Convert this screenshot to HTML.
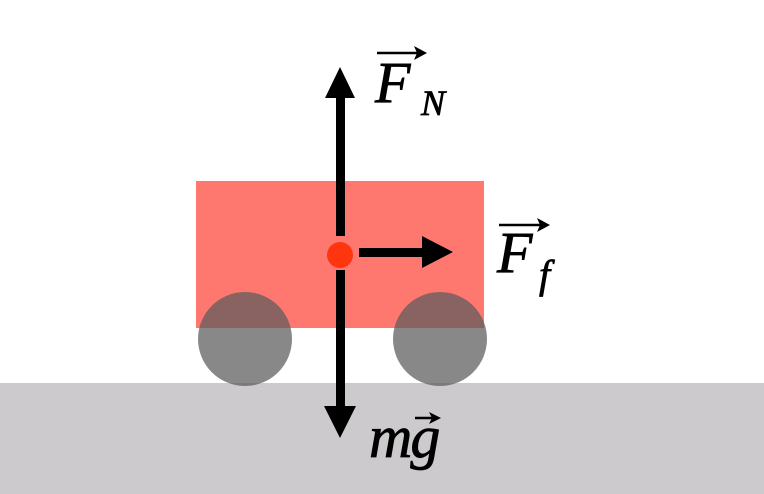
<!DOCTYPE html>
<html><head><style>
html,body{margin:0;padding:0;background:#fff;}
</style></head><body>
<svg width="764" height="494" viewBox="0 0 764 494" xmlns="http://www.w3.org/2000/svg" style="display:block">
<rect x="0" y="383" width="764" height="111" fill="#cccacc"/>
<rect x="196" y="181" width="288" height="147" fill="#ff7870"/>
<circle cx="245" cy="339" r="47" fill="#5c5c5c" opacity="0.73"/>
<circle cx="440" cy="339" r="47" fill="#5c5c5c" opacity="0.73"/>
<rect x="336" y="95" width="9" height="141" fill="#000"/>
<polygon points="340,67 325,98 355,98" fill="#000"/>
<rect x="336" y="270" width="9" height="140" fill="#000"/>
<polygon points="340,438 324,406 356,406" fill="#000"/>
<rect x="359" y="248" width="65" height="9" fill="#000"/>
<polygon points="453,252 422,236 422,268" fill="#000"/>
<circle cx="340" cy="255" r="13" fill="#ff3510"/>
<g font-family="Liberation Serif, serif" font-style="italic" fill="#000" stroke="#000" stroke-width="0.8">
<text x="375" y="102" font-size="58">F</text>
<text x="421" y="115" font-size="36">N</text>
<text x="497" y="272" font-size="58">F</text>
<text x="539" y="288" font-size="40">f</text>
<text x="369" y="457" font-size="60" letter-spacing="-2">mg</text>
</g>
<g stroke="#000" stroke-width="2.5" fill="none">
<line x1="377" y1="53" x2="418" y2="53"/>
<line x1="499" y1="225" x2="541" y2="225"/>
<line x1="415" y1="418" x2="432" y2="418"/>
</g>
<g fill="#000">
<polygon points="427,53 414,46 417,53 414,60"/>
<polygon points="550,225 537,218 540,225 537,232"/>
<polygon points="441,418 429,412 432,418 429,424"/>
</g>
</svg>
</body></html>
